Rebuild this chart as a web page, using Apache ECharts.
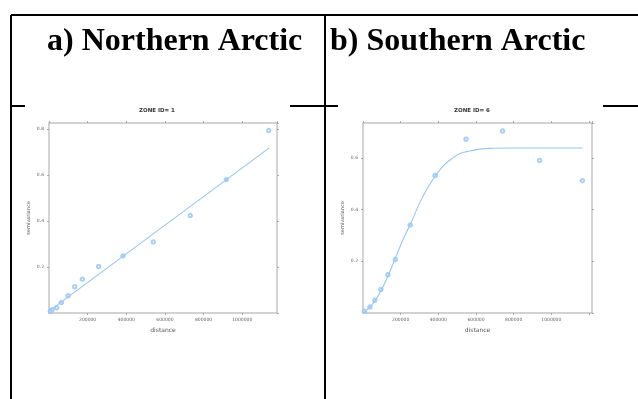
<!DOCTYPE html>
<html>
<head>
<meta charset="utf-8">
<script src="https://cdn.jsdelivr.net/npm/echarts@6/dist/echarts.min.js"></script>
<style>
    html,body{margin:0;padding:0;background:#fff;}
    #main{width:638px;height:399px;}
</style>
</head>
<body>
<div id="main"></div>
<script>
//左图 ZONE 1 实测点
let northDist = [7000, 16000, 40000, 64000, 99000, 133000, 173000, 257000, 383000, 540000, 731000, 918000, 1137000]
let northGamma = [0.007, 0.014, 0.023, 0.045, 0.075, 0.114, 0.147, 0.202, 0.248, 0.308, 0.423, 0.579, 0.792]
//左图拟合直线
let northFitDist = [0, 1140000]
let northFitGamma = [0.008, 0.717]

//右图 ZONE 6 实测点
let southDist = [7000, 37000, 63000, 95000, 132000, 172000, 251000, 383000, 547000, 741000, 938000, 1165000]
let southGamma = [0.0065, 0.023, 0.049, 0.091, 0.148, 0.207, 0.340, 0.532, 0.672, 0.704, 0.590, 0.512]
//右图拟合曲线
let southFitDist = [5000, 40000, 62000, 97000, 132000, 168000, 212000, 257000, 300000, 340000, 381000, 430000, 460000, 514000, 567000, 620000, 673000, 800000, 1000000, 1166000]
let southFitGamma = [0.003, 0.025, 0.046, 0.088, 0.142, 0.205, 0.283, 0.352, 0.425, 0.48, 0.527, 0.572, 0.591, 0.617, 0.627, 0.634, 0.637, 0.638, 0.638, 0.638]

//坐标轴刻度
let xTickStep = 200000
let yTickStep = 0.2
let xLabelMax = 1000000

let boxColor = '#c4c4c4'
let blue = '#96c6f4'
let dotColor = '#92c3f3'

function pairs(xs, ys){
    return xs.map((x, i) => [x, ys[i]])
}

//下/左轴（有标签）
function mainX(grid, max){
    return {
        type:'value', gridIndex:grid, min:0, max:max, interval:xTickStep, position:'bottom',
        name:'distance', nameLocation:'middle', nameGap:14,
        nameTextStyle:{fontSize:6, color:'#555', fontFamily:'DejaVu Sans'},
        axisLine:{show:true, onZero:false, lineStyle:{color:boxColor, width:1.5}},
        axisTick:{show:true, length:2, lineStyle:{color:'#999', width:0.8}},
        axisLabel:{fontSize:4.5, color:'#666', margin:4, showMinLabel:false, showMaxLabel:false, fontFamily:'DejaVu Sans',
            formatter:v => (v > 0 && v <= xLabelMax) ? String(v) : ''},
        splitLine:{show:false}
    }
}
function mainY(grid, max){
    return {
        type:'value', gridIndex:grid, min:0, max:max, interval:yTickStep, position:'left',
        name:'semivariance', nameLocation:'middle', nameGap:18, nameRotate:90,
        nameTextStyle:{fontSize:5, color:'#555', fontFamily:'DejaVu Sans'},
        axisLine:{show:true, onZero:false, lineStyle:{color:boxColor, width:1.5}},
        axisTick:{show:true, length:2, lineStyle:{color:'#999', width:0.8}},
        axisLabel:{fontSize:4.5, color:'#666', margin:5, showMinLabel:false, showMaxLabel:false, fontFamily:'DejaVu Sans',
            formatter:v => v.toFixed(1)},
        splitLine:{show:false}
    }
}
//上/右轴（只有刻度）
function sideAxis(grid, max, step, pos){
    return {
        type:'value', gridIndex:grid, min:0, max:max, interval:step, position:pos,
        axisLine:{show:true, onZero:false, lineStyle:{color:boxColor, width:1.5}},
        axisTick:{show:true, length:2, lineStyle:{color:'#999', width:0.8}},
        axisLabel:{show:false},
        splitLine:{show:false}
    }
}

let chart = echarts.init(document.getElementById('main'))

//表格线
let lineStyle = {stroke:'#000', lineWidth:2}
let tableLines = [
    [11, 15, 638, 15],
    [11, 15, 11, 399],
    [325, 15, 325, 399],
    [11, 106, 25, 106],
    [290, 106, 338, 106],
    [603, 106, 638, 106]
].map(p => ({type:'line', shape:{x1:p[0], y1:p[1], x2:p[2], y2:p[3]}, style:lineStyle, z:10}))

let option = {
    animation:false,
    backgroundColor:'#fff',
    grid:[
        {left:49, top:123, width:228, height:190},
        {left:363, top:123, width:229, height:190}
    ],
    xAxis:[
        mainX(0, 1180000),
        mainX(1, 1216000),
        sideAxis(0, 1180000, xTickStep, 'top'),
        sideAxis(1, 1216000, xTickStep, 'top')
    ],
    yAxis:[
        mainY(0, 0.825),
        mainY(1, 0.735),
        sideAxis(0, 0.825, yTickStep, 'right'),
        sideAxis(1, 0.735, yTickStep, 'right')
    ],
    series:[
        {type:'line', xAxisIndex:0, yAxisIndex:0, data:pairs(northFitDist, northFitGamma),
            showSymbol:false, lineStyle:{color:blue, width:1.1}},
        {type:'scatter', xAxisIndex:0, yAxisIndex:0, data:pairs(northDist, northGamma),
            symbol:'emptyCircle', symbolSize:3.5, itemStyle:{color:dotColor, borderWidth:0.8}},
        {type:'line', xAxisIndex:1, yAxisIndex:1, data:pairs(southFitDist, southFitGamma),
            smooth:0.3, showSymbol:false, lineStyle:{color:blue, width:1.1}},
        {type:'scatter', xAxisIndex:1, yAxisIndex:1, data:pairs(southDist, southGamma),
            symbol:'emptyCircle', symbolSize:3.5, itemStyle:{color:dotColor, borderWidth:0.8}}
    ],
    graphic:tableLines.concat([
        {type:'text', left:47, top:26, z:10,
            style:{text:'a) Northern Arctic', font:'bold 32px "Liberation Serif"', fill:'#000'}},
        {type:'text', left:330, top:26, z:10,
            style:{text:'b) Southern Arctic', font:'bold 32px "Liberation Serif"', fill:'#000'}},
        {type:'text', x:157, y:111, z:10,
            style:{text:'ZONE ID= 1', font:'bold 5.5px "DejaVu Sans"', fill:'#333', align:'center', verticalAlign:'middle'}},
        {type:'text', x:472, y:111, z:10,
            style:{text:'ZONE ID= 6', font:'bold 5.5px "DejaVu Sans"', fill:'#333', align:'center', verticalAlign:'middle'}}
    ])
}
chart.setOption(option)
</script>
</body>
</html>
